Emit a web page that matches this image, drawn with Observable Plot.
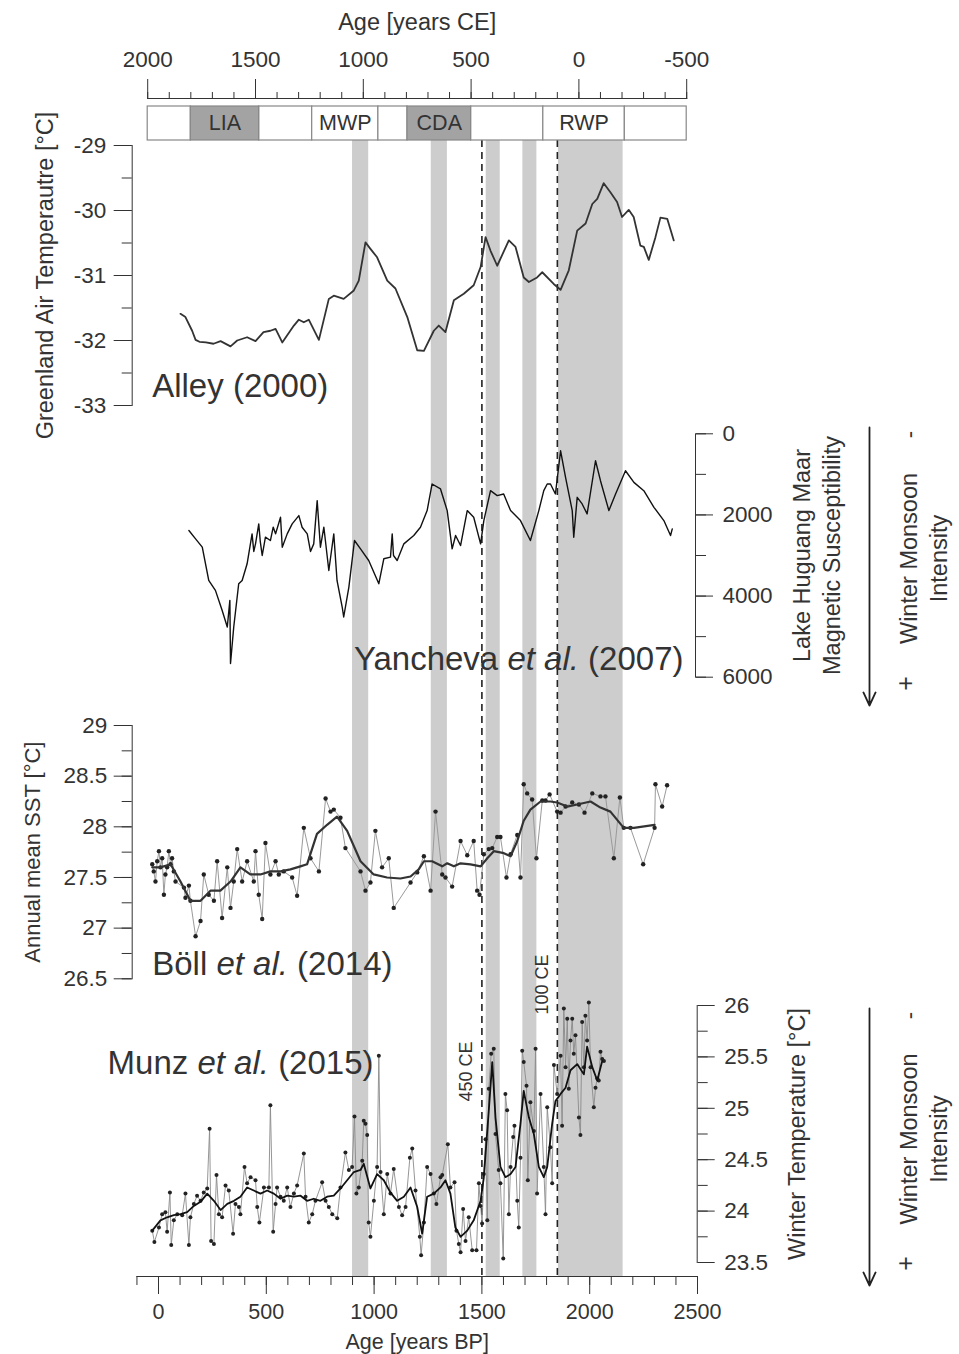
<!DOCTYPE html>
<html>
<head>
<meta charset="utf-8">
<script src="https://cdn.jsdelivr.net/npm/d3@7"></script>
<script src="https://cdn.jsdelivr.net/npm/@observablehq/plot@0.6"></script>
<style>
html,body{margin:0;padding:0;background:#fff;}
#chart{position:relative;width:959px;height:1354px;overflow:hidden;background:#fff;}
</style>
</head>
<body>
<div id="chart"></div>
<script>
// ---------------- DATA ----------------
// shaded intervals (years BP)
const bands = [
  {start: 900, end: 975}, {start: 1265, end: 1340}, {start: 1520, end: 1585},
  {start: 1690, end: 1755}, {start: 1855, end: 2155}
];
// dashed markers (years BP)
const markers = [{bp: 1500, label: "450 CE"}, {bp: 1850, label: "100 CE"}];
// climate periods (years CE)
const periods = [
  {from: 2000, to: 1800, name: "", shaded: false},
  {from: 1800, to: 1483, name: "LIA", shaded: true},
  {from: 1483, to: 1237, name: "", shaded: false},
  {from: 1237, to: 930, name: "MWP", shaded: false},
  {from: 930, to: 795, name: "", shaded: false},
  {from: 795, to: 500, name: "CDA", shaded: true},
  {from: 500, to: 165, name: "", shaded: false},
  {from: 165, to: -213, name: "RWP", shaded: false},
  {from: -213, to: -500, name: "", shaded: false}
];
const bpTicks = [0, 500, 1000, 1500, 2000, 2500];
const ceTicks = [2000, 1500, 1000, 500, 0, -500];
const alleyTicks = [-33, -32, -31, -30, -29];
const yanchevaTicks = [0, 2000, 4000, 6000];
const bollTicks = [26.5, 27, 27.5, 28, 28.5, 29];
const munzTicks = [23.5, 24, 24.5, 25, 25.5, 26];

// Alley (2000): Greenland air temperature [°C]
const alley = [[102,-31.59],[125,-31.64],[156,-31.85],[172,-31.99],[190,-32.02],[220,-32.03],[255,-32.05],[288,-32.01],[334,-32.09],[365,-32.0],[411,-31.95],[450,-32.01],[487,-31.87],[519,-31.85],[543,-31.82],[574,-32.03],[628,-31.77],[651,-31.68],[674,-31.72],[697,-31.68],[744,-31.99],[790,-31.36],[813,-31.31],[859,-31.36],[906,-31.23],[929,-31.08],[960,-30.49],[983,-30.59],[1014,-30.72],[1061,-31.08],[1099,-31.2],[1154,-31.64],[1200,-32.15],[1231,-32.16],[1277,-31.85],[1300,-31.77],[1331,-31.87],[1370,-31.38],[1416,-31.28],[1462,-31.15],[1494,-30.87],[1517,-30.41],[1540,-30.62],[1571,-30.85],[1625,-30.46],[1656,-30.56],[1694,-31.03],[1718,-31.1],[1756,-31.03],[1780,-30.95],[1833,-31.13],[1865,-31.22],[1903,-30.92],[1942,-30.31],[1981,-30.2],[2012,-29.9],[2035,-29.82],[2065,-29.58],[2096,-29.72],[2127,-29.87],[2150,-30.1],[2181,-29.99],[2204,-30.1],[2235,-30.54],[2251,-30.56],[2274,-30.76],[2305,-30.41],[2328,-30.11],[2360,-30.13],[2390,-30.46]];

// Yancheva et al. (2007): magnetic susceptibility
const yancheva = [[141,2385],[172,2590],[203,2795],[233,3615],[264,3860],[295,4352],[319,4762],[331,4106],[334,5663],[349,4762],[372,3696],[388,3615],[411,3204],[434,2467],[442,2900],[450,2713],[465,2221],[472,2650],[481,3000],[496,2549],[519,2631],[532,2300],[543,2467],[566,2057],[574,2795],[597,2467],[620,2221],[651,2016],[666,2303],[690,2467],[705,2900],[720,2713],[736,1648],[751,2795],[767,2303],[790,3369],[813,2467],[828,3615],[852,4270],[859,4516],[883,3779],[909,2631],[937,2836],[975,3123],[1022,3696],[1045,3081],[1076,3041],[1084,2467],[1090,3000],[1107,3123],[1138,2713],[1184,2508],[1215,2303],[1246,1893],[1269,1237],[1308,1360],[1339,1893],[1362,2836],[1378,2508],[1401,2754],[1432,1893],[1462,2057],[1494,2713],[1509,2139],[1540,1402],[1571,1525],[1601,1483],[1633,1893],[1679,2139],[1725,2631],[1764,1893],[1787,1402],[1803,1237],[1818,1237],[1841,1483],[1865,418],[1888,1075],[1919,1893],[1926,2549],[1942,1566],[1965,1729],[1988,1975],[2027,664],[2050,1156],[2089,1893],[2120,1483],[2166,910],[2205,1197],[2251,1402],[2298,1812],[2344,2139],[2375,2508],[2383,2344]];

// Böll et al. (2014): annual mean SST, raw and smoothed
const bollRaw = [[-29,27.63],[-22,27.56],[-14,27.46],[-6,27.66],[2,27.76],[9,27.60],[17,27.69],[25,27.33],[32,27.53],[40,27.60],[48,27.76],[56,27.63],[63,27.69],[71,27.56],[79,27.46],[118,27.40],[125,27.30],[141,27.42],[148,27.27],[172,26.92],[195,27.07],[210,27.53],[233,27.33],[257,27.27],[272,27.66],[295,27.10],[319,27.60],[334,27.20],[349,27.46],[365,27.78],[388,27.46],[411,27.66],[442,27.46],[450,27.76],[465,27.33],[481,27.09],[496,27.84],[519,27.53],[543,27.66],[558,27.53],[581,27.56],[620,27.50],[643,27.32],[674,27.99],[705,27.69],[744,27.56],[775,28.28],[798,28.15],[813,28.17],[844,28.09],[867,27.79],[937,27.56],[960,27.37],[983,27.45],[1006,27.96],[1037,27.60],[1068,27.69],[1091,27.20],[1169,27.45],[1200,27.55],[1231,27.71],[1262,27.37],[1285,28.15],[1316,27.53],[1331,27.50],[1362,27.41],[1401,27.86],[1432,27.72],[1462,27.86],[1478,27.37],[1489,27.33],[1509,27.73],[1532,27.78],[1548,27.79],[1571,27.90],[1586,27.90],[1614,27.50],[1633,27.73],[1664,27.92],[1679,27.50],[1694,28.42],[1710,28.33],[1733,28.27],[1753,27.69],[1780,28.26],[1795,28.26],[1814,28.32],[1849,28.15],[1865,28.14],[1888,28.20],[1919,28.24],[1950,28.22],[1976,28.14],[2012,28.33],[2050,28.30],[2073,28.30],[2112,27.69],[2140,28.29],[2158,27.99],[2189,27.99],[2248,27.63],[2301,27.99],[2305,28.42],[2336,28.20],[2359,28.41]];
const bollSmooth = [[-29,27.60],[9,27.60],[56,27.63],[102,27.46],[148,27.27],[195,27.27],[241,27.37],[287,27.37],[334,27.46],[380,27.60],[426,27.53],[473,27.53],[519,27.56],[566,27.56],[612,27.58],[658,27.61],[689,27.63],[735,27.93],[782,28.02],[828,28.10],[875,27.96],[937,27.66],[998,27.53],[1060,27.50],[1122,27.49],[1169,27.51],[1207,27.58],[1231,27.66],[1269,27.66],[1316,27.61],[1339,27.64],[1370,27.61],[1401,27.64],[1447,27.63],[1494,27.61],[1525,27.69],[1555,27.76],[1602,27.74],[1633,27.71],[1664,27.86],[1694,28.06],[1725,28.17],[1772,28.25],[1818,28.25],[1849,28.24],[1896,28.20],[1942,28.22],[2004,28.25],[2050,28.19],[2096,28.15],[2158,27.99],[2205,27.99],[2301,28.02]];

// Munz et al. (2015): winter temperature, raw and smoothed
const munzRaw = [[-29,23.81],[-19,23.70],[2,23.84],[17,23.97],[32,23.99],[40,23.80],[53,24.18],[59,23.67],[71,23.91],[87,23.97],[110,23.96],[125,24.17],[141,23.67],[148,23.94],[164,24.07],[179,24.15],[195,24.10],[210,24.18],[226,24.22],[237,24.80],[244,23.71],[257,23.68],[269,24.35],[280,23.97],[295,23.94],[311,24.25],[326,24.20],[346,23.78],[357,24.07],[373,24.04],[380,23.97],[399,24.43],[411,24.27],[427,24.33],[450,24.30],[458,24.04],[468,23.89],[489,24.23],[512,24.23],[519,25.03],[532,23.80],[543,24.07],[550,24.23],[566,24.14],[581,24.10],[597,24.23],[612,24.04],[628,24.17],[643,24.25],[674,24.56],[682,24.14],[697,23.89],[713,23.97],[728,24.10],[759,24.28],[775,24.10],[790,24.04],[806,23.97],[829,23.93],[844,24.23],[867,24.57],[883,24.40],[898,24.43],[909,24.92],[918,24.17],[929,24.23],[945,24.49],[952,24.88],[960,24.85],[968,24.74],[975,23.89],[983,23.75],[999,24.10],[1014,24.43],[1022,25.51],[1030,24.38],[1045,23.97],[1061,24.36],[1076,24.17],[1091,24.41],[1115,24.04],[1130,23.96],[1146,24.04],[1166,24.52],[1177,24.61],[1192,24.20],[1212,23.75],[1218,23.57],[1231,23.89],[1246,24.43],[1262,24.36],[1277,24.17],[1289,24.07],[1308,24.33],[1316,24.35],[1342,24.65],[1354,24.23],[1373,24.28],[1382,23.81],[1393,23.68],[1401,23.60],[1413,24.02],[1424,23.71],[1439,23.94],[1455,23.62],[1475,23.62],[1486,24.27],[1494,24.05],[1501,23.88],[1509,24.36],[1517,24.70],[1525,23.91],[1532,25.19],[1543,25.53],[1555,25.58],[1563,24.75],[1578,24.40],[1586,24.27],[1599,23.54],[1609,25.14],[1617,24.98],[1625,23.97],[1633,24.43],[1645,24.72],[1651,24.83],[1664,24.10],[1671,23.84],[1679,24.52],[1687,25.56],[1694,25.45],[1707,25.22],[1713,24.30],[1725,25.06],[1741,24.78],[1749,25.58],[1756,24.17],[1772,25.14],[1787,24.43],[1795,23.97],[1803,25.01],[1818,24.62],[1826,24.27],[1834,25.42],[1849,25.14],[1865,25.51],[1872,24.83],[1880,25.97],[1888,25.40],[1896,25.87],[1903,25.19],[1911,25.66],[1919,25.87],[1926,25.53],[1934,25.71],[1950,24.91],[1957,24.74],[1965,25.84],[1973,25.40],[1980,25.90],[1988,25.66],[1996,26.03],[2004,25.40],[2019,25.01],[2027,25.20],[2035,25.29],[2042,25.27],[2050,25.55],[2058,25.48],[2066,25.46]];
const munzSmooth = [[-29,23.81],[9,23.91],[40,23.94],[71,23.96],[102,23.97],[133,23.99],[164,24.05],[195,24.09],[226,24.17],[257,24.10],[288,24.01],[319,24.07],[350,24.10],[380,24.14],[411,24.23],[442,24.20],[473,24.17],[504,24.20],[535,24.17],[566,24.12],[597,24.15],[628,24.14],[659,24.15],[689,24.10],[720,24.12],[751,24.10],[782,24.14],[813,24.15],[844,24.22],[875,24.30],[906,24.38],[937,24.40],[952,24.46],[983,24.22],[1014,24.36],[1045,24.30],[1076,24.18],[1107,24.10],[1138,24.14],[1169,24.23],[1200,24.04],[1223,23.78],[1246,24.14],[1277,24.17],[1308,24.23],[1331,24.30],[1354,24.17],[1377,23.84],[1401,23.75],[1432,23.81],[1462,23.91],[1494,24.10],[1509,24.33],[1532,24.98],[1548,25.45],[1563,24.91],[1586,24.43],[1609,24.33],[1633,24.36],[1656,24.43],[1679,24.85],[1694,25.17],[1718,24.91],[1741,24.75],[1764,24.43],[1787,24.33],[1803,24.43],[1826,24.85],[1841,25.07],[1865,25.14],[1888,25.20],[1911,25.37],[1942,25.43],[1973,25.33],[1988,25.60],[2012,25.40],[2035,25.27],[2058,25.46]];

const monsoonLabel = "Winter Monsoon\nIntensity";

// ---------------- RENDER ----------------
const W = 959, H = 1354;
const FONT = '"Liberation Sans", Arial, Helvetica, sans-serif';
const INK = "#333";
const TICK_FS = 22.5, TITLE_FS = 23.5, NAME_FS = 33;
const chart = document.getElementById("chart");
const rows = (arr) => arr.map(([bp, v]) => ({bp, v}));
const id = (d) => d;

const xBP = {domain: [-100, 2500], range: [136.44, 697]};
const xCE = {domain: [2000, -500], range: [147.2, 686.2]};

function italicize(svg) {
  d3.select(svg).selectAll("text").each(function () {
    const t = this.textContent;
    const k = t.indexOf("et al.");
    if (k < 0 || this.querySelector("tspan")) return;
    const sel = d3.select(this);
    sel.text(null);
    sel.append("tspan").text(t.slice(0, k));
    sel.append("tspan").attr("font-style", "italic").text("et al.");
    sel.append("tspan").text(t.slice(k + 6));
  });
}

function layer(options) {
  const svg = Plot.plot({
    width: W, height: H,
    style: `background:transparent;overflow:visible;font-family:${FONT};font-size:${TICK_FS}px;color:${INK};`,
    ...options
  });
  svg.style.position = "absolute";
  svg.style.left = "0px";
  svg.style.top = "0px";
  italicize(svg);
  chart.appendChild(svg);
}

// background: shaded bands, dashed markers, bottom BP axis
layer({
  marginTop: 140, marginBottom: H - 1276, marginLeft: xBP.range[0], marginRight: W - xBP.range[1],
  x: {...xBP, axis: null},
  marks: [
    Plot.rectX(bands, {x1: "start", x2: "end", fill: "#cdcdcd"}),
    Plot.ruleX(markers, {x: "bp", stroke: "#222", strokeWidth: 1.6, strokeDasharray: "7,5"}),
    Plot.text(markers.slice(0, 1), {x: "bp", text: "label", rotate: -90, frameAnchor: "bottom", textAnchor: "middle", lineAnchor: "middle", dx: -16, dy: -205, fontSize: 18, fill: INK}),
    Plot.text(markers.slice(1), {x: "bp", text: "label", rotate: -90, frameAnchor: "bottom", textAnchor: "middle", lineAnchor: "middle", dx: -15, dy: -292, fontSize: 18, fill: INK}),
    Plot.axisX({anchor: "bottom", ticks: d3.range(-100, 2501, 100), tickSize: 9, tickFormat: () => "", label: null}),
    Plot.axisX({anchor: "bottom", ticks: bpTicks, tickSize: 18, tickPadding: 9, tickFormat: String, label: null, fontSize: 21.5}),
    Plot.frame({anchor: "bottom"}),
    Plot.text(["Age [years BP]"], {text: id, frameAnchor: "bottom", textAnchor: "middle", lineAnchor: "middle", dy: 66, fontSize: 21.5, fill: INK})
  ]
});

// top CE axis with period boxes
layer({
  marginTop: 98, marginBottom: H - 140, marginLeft: xCE.range[0], marginRight: W - xCE.range[1],
  x: {...xCE, axis: null},
  marks: [
    Plot.rectX(periods.filter(d => !d.shaded), {x1: "from", x2: "to", fill: "#fff", stroke: "#888", strokeWidth: 1.2, insetTop: 8}),
    Plot.rectX(periods.filter(d => d.shaded), {x1: "from", x2: "to", fill: "#a3a3a3", stroke: "#888", strokeWidth: 1.2, insetTop: 8}),
    Plot.text(periods.filter(d => d.name), {x: d => (d.from + d.to) / 2, text: "name", frameAnchor: "bottom", textAnchor: "middle", lineAnchor: "middle", dy: -17, fontSize: 21.5, fill: INK}),
    Plot.axisX({anchor: "top", ticks: d3.range(2000, -501, -100), tickSize: 7, tickFormat: () => "", label: null}),
    Plot.axisX({anchor: "top", ticks: ceTicks, tickSize: 20, tickPadding: 12, tickFormat: String, label: null}),
    Plot.frame({anchor: "top"}),
    Plot.text(["Age [years CE]"], {text: id, frameAnchor: "top", textAnchor: "middle", lineAnchor: "middle", dy: -76, fontSize: TITLE_FS, fill: INK})
  ]
});

// Alley (2000)
layer({
  marginTop: 145, marginBottom: H - 405, marginLeft: 131.7, marginRight: W - xBP.range[1],
  x: {...xBP, axis: null},
  y: {domain: [-33, -29], axis: null},
  marks: [
    Plot.axisY({anchor: "left", ticks: d3.range(-33, -28.99, 0.5), tickSize: 10, tickFormat: () => "", label: null}),
    Plot.axisY({anchor: "left", ticks: alleyTicks, tickSize: 18, tickPadding: 8, tickFormat: String, label: null}),
    Plot.frame({anchor: "left"}),
    Plot.line(rows(alley), {x: "bp", y: "v", stroke: "#333", strokeWidth: 1.8}),
    Plot.text(["Greenland Air Temperautre [°C]"], {text: id, frameAnchor: "left", rotate: -90, textAnchor: "middle", lineAnchor: "middle", dx: -87, fontSize: TITLE_FS, fill: INK}),
    Plot.text(["Alley (2000)"], {text: id, frameAnchor: "bottom-left", textAnchor: "start", lineAnchor: "bottom", dx: 20, dy: -9, fontSize: NAME_FS, fill: INK})
  ]
});

// Yancheva et al. (2007)
layer({
  marginTop: 433.3, marginBottom: H - 676.7, marginLeft: xBP.range[0], marginRight: W - 695,
  x: {...xBP, axis: null},
  y: {domain: [0, 6000], reverse: true, axis: null},
  marks: [
    Plot.axisY({anchor: "right", ticks: d3.range(0, 6001, 1000), tickSize: 10, tickFormat: () => "", label: null}),
    Plot.axisY({anchor: "right", ticks: yanchevaTicks, tickSize: 17, tickPadding: 10, tickFormat: String, label: null}),
    Plot.frame({anchor: "right"}),
    Plot.line(rows(yancheva), {x: "bp", y: "v", stroke: "#111", strokeWidth: 1.4}),
    Plot.text(["Lake Huguang Maar\nMagnetic Susceptibility"], {text: id, frameAnchor: "right", rotate: -90, textAnchor: "middle", lineAnchor: "middle", lineHeight: 1.25, dx: 120, fontSize: TITLE_FS, fill: INK}),
    Plot.text(["Yancheva et al. (2007)"], {text: id, frameAnchor: "bottom-right", textAnchor: "end", lineAnchor: "bottom", dx: -12, dy: -7, fontSize: NAME_FS, fill: INK})
  ]
});

// Böll et al. (2014)
layer({
  marginTop: 725, marginBottom: H - 978.3, marginLeft: 131.7, marginRight: W - xBP.range[1],
  x: {...xBP, axis: null},
  y: {domain: [26.5, 29], axis: null},
  marks: [
    Plot.axisY({anchor: "left", ticks: d3.range(26.5, 29.01, 0.25), tickSize: 10, tickFormat: () => "", label: null}),
    Plot.axisY({anchor: "left", ticks: bollTicks, tickSize: 18, tickPadding: 7, tickFormat: String, label: null}),
    Plot.frame({anchor: "left"}),
    Plot.line(rows(bollRaw), {x: "bp", y: "v", stroke: "#9a9a9a", strokeWidth: 1}),
    Plot.dot(rows(bollRaw), {x: "bp", y: "v", r: 2.2, fill: "#222"}),
    Plot.line(rows(bollSmooth), {x: "bp", y: "v", stroke: "#333", strokeWidth: 2.2}),
    Plot.text(["Annual mean SST [°C]"], {text: id, frameAnchor: "left", rotate: -90, textAnchor: "middle", lineAnchor: "middle", dx: -99, fontSize: 22, fill: INK}),
    Plot.text(["Böll et al. (2014)"], {text: id, frameAnchor: "bottom-left", textAnchor: "start", lineAnchor: "bottom", dx: 20, dy: -4, fontSize: NAME_FS, fill: INK})
  ]
});

// Munz et al. (2015)
layer({
  marginTop: 1005, marginBottom: H - 1262, marginLeft: xBP.range[0], marginRight: W - 696.7,
  x: {...xBP, axis: null},
  y: {domain: [23.5, 26], axis: null},
  marks: [
    Plot.axisY({anchor: "right", ticks: d3.range(23.5, 26.01, 0.25), tickSize: 10, tickFormat: () => "", label: null}),
    Plot.axisY({anchor: "right", ticks: munzTicks, tickSize: 17, tickPadding: 10, tickFormat: String, label: null}),
    Plot.frame({anchor: "right"}),
    Plot.line(rows(munzRaw), {x: "bp", y: "v", stroke: "#8a8a8a", strokeWidth: 0.9}),
    Plot.dot(rows(munzRaw), {x: "bp", y: "v", r: 2, fill: "#222"}),
    Plot.line(rows(munzSmooth), {x: "bp", y: "v", stroke: "#111", strokeWidth: 1.8}),
    Plot.text(["Winter Temperature [°C]"], {text: id, frameAnchor: "right", rotate: -90, textAnchor: "middle", lineAnchor: "middle", dx: 100, fontSize: TITLE_FS, fill: INK}),
    Plot.text(["Munz et al. (2015)"], {text: id, frameAnchor: "top-left", textAnchor: "start", lineAnchor: "bottom", dx: -29.4, dy: 68, fontSize: NAME_FS, fill: INK})
  ]
});

// Winter-monsoon direction legends
function monsoonLegend(top, bottom) {
  layer({
    marginTop: top, marginBottom: H - bottom, marginLeft: 869, marginRight: W - 945,
    x: {domain: [0, 1], axis: null},
    y: {domain: [0, 1], axis: null},
    marks: [
      Plot.arrow([0], {x1: 0, x2: 0, y1: 1, y2: 0, stroke: "#222", strokeWidth: 1.8, headLength: 12, headAngle: 50}),
      Plot.text([monsoonLabel], {text: id, frameAnchor: "right", rotate: -90, textAnchor: "middle", lineAnchor: "middle", lineHeight: 1.25, dx: -23, dy: -8, fontSize: TITLE_FS, fill: INK}),
      Plot.text(["-"], {text: id, frameAnchor: "top-right", rotate: -90, textAnchor: "middle", lineAnchor: "middle", dx: -36, dy: 7, fontSize: 22, fill: INK}),
      Plot.text(["+"], {text: id, frameAnchor: "bottom-right", rotate: -90, textAnchor: "middle", lineAnchor: "middle", dx: -40, dy: -22, fontSize: 25, fill: INK})
    ]
  });
}
monsoonLegend(427, 705);
monsoonLegend(1008, 1285);
</script>
</body>
</html>
